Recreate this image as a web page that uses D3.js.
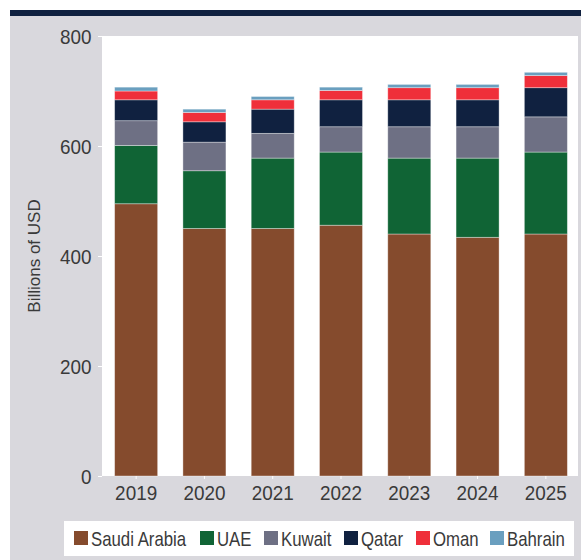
<!DOCTYPE html>
<html>
<head>
<meta charset="utf-8">
<script src="https://cdn.jsdelivr.net/npm/d3@7"></script>
<style>
  html, body { margin: 0; padding: 0; background: #ffffff; }
  svg { display: block; }
  text { font-family: "Liberation Sans", Arial, sans-serif; fill: #3a3a3a; }
</style>
</head>
<body>
<svg id="chart" width="581" height="560"></svg>
<script>
const years = ["2019", "2020", "2021", "2022", "2023", "2024", "2025"];
const seriesNames = ["Saudi Arabia", "UAE", "Kuwait", "Qatar", "Oman", "Bahrain"];
const saudiArabia = [495, 450, 450, 456, 440, 434, 440];
const uae         = [106, 105, 128, 133, 138, 144, 149];
const kuwait      = [45, 52, 45, 46, 57, 57, 64];
const qatar       = [38, 37, 44, 49, 49, 49, 53];
const oman        = [16, 17, 17, 17, 22, 22, 22];
const bahrain     = [7, 6, 6, 6, 6, 6, 6];
const yTicks = [0, 200, 400, 600, 800];
const colors = ["#854b2d", "#106435", "#6e7084", "#102140", "#ef2f3a", "#6a9fbf"];

const seriesValues = [saudiArabia, uae, kuwait, qatar, oman, bahrain];
const rows = years.map((y, i) => {
  const r = { year: y };
  seriesNames.forEach((s, j) => r[s] = seriesValues[j][i]);
  return r;
});

const svg = d3.select("#chart");

// background frame
svg.append("rect").attr("x", 0).attr("y", 0).attr("width", 581).attr("height", 560).attr("fill", "#ffffff");
svg.append("rect").attr("x", 10).attr("y", 10).attr("width", 571).attr("height", 6).attr("fill", "#102140");
svg.append("rect").attr("x", 10).attr("y", 16).attr("width", 571).attr("height", 544).attr("fill", "#d9d8dd");

const panel = { left: 102, right: 578, top: 36, bottom: 476 };
svg.append("rect").attr("x", panel.left).attr("y", panel.top)
  .attr("width", panel.right - panel.left).attr("height", panel.bottom - panel.top)
  .attr("fill", "#ffffff");

const x = d3.scaleBand().domain(years).range([102, 580]).paddingInner(0.37).paddingOuter(0.185);
const y = d3.scaleLinear().domain([0, 800]).range([panel.bottom, panel.top]);

const stacked = d3.stack().keys(seriesNames)(rows);

svg.append("g").selectAll("g").data(stacked).join("g")
  .attr("fill", (d, i) => colors[i])
  .selectAll("rect").data(d => d).join("rect")
  .attr("x", d => x(d.data.year))
  .attr("y", d => y(d[1]))
  .attr("width", x.bandwidth())
  .attr("height", d => y(d[0]) - y(d[1]))
  .attr("stroke", "rgba(255,255,255,0.45)")
  .attr("stroke-width", 0.8);

// y axis
const yAxis = d3.axisLeft(y).tickValues(yTicks).tickSize(4).tickPadding(0);
const gy = svg.append("g").attr("transform", `translate(${panel.left},0)`).call(yAxis);
gy.select(".domain").remove();
gy.selectAll(".tick line").attr("stroke", "#ffffff").attr("stroke-width", 1);
gy.selectAll(".tick text")
  .attr("x", null).attr("dy", "0.36em")
  .attr("font-size", 21).attr("fill", "#3a3a3a")
  .style("font-family", "'Liberation Sans', Arial, sans-serif")
  .attr("transform", "translate(-10.5,0) scale(0.9,1)");

// x axis
const xAxis = d3.axisBottom(x).tickSize(3).tickPadding(0);
const gx = svg.append("g").attr("transform", `translate(0,${panel.bottom})`).call(xAxis);
gx.select(".domain").remove();
gx.selectAll(".tick line").attr("stroke", "#ffffff").attr("stroke-width", 1);
gx.selectAll(".tick text")
  .attr("y", null).attr("dy", null)
  .attr("font-size", 21).attr("fill", "#3a3a3a")
  .style("font-family", "'Liberation Sans', Arial, sans-serif")
  .attr("transform", "translate(0,23.5) scale(0.9,1)");

// y label
svg.append("text")
  .attr("transform", `translate(40,256) rotate(-90)`)
  .attr("text-anchor", "middle")
  .attr("font-size", 17)
  .attr("fill", "#222")
  .text("Billions of USD");

// legend
svg.append("rect").attr("x", 64).attr("y", 521).attr("width", 510).attr("height", 35).attr("fill", "#ffffff");
const legendX = [74, 200, 264, 344, 416, 490];
const lg = svg.append("g").selectAll("g").data(seriesNames).join("g")
  .attr("transform", (d, i) => `translate(${legendX[i]},531)`);
lg.append("rect").attr("width", 14).attr("height", 14).attr("fill", (d, i) => colors[i]);
lg.append("text")
  .attr("transform", "translate(17,15) scale(0.84,1)")
  .attr("font-size", 20).attr("fill", "#3a3a3a").text(d => d);
</script>
</body>
</html>
